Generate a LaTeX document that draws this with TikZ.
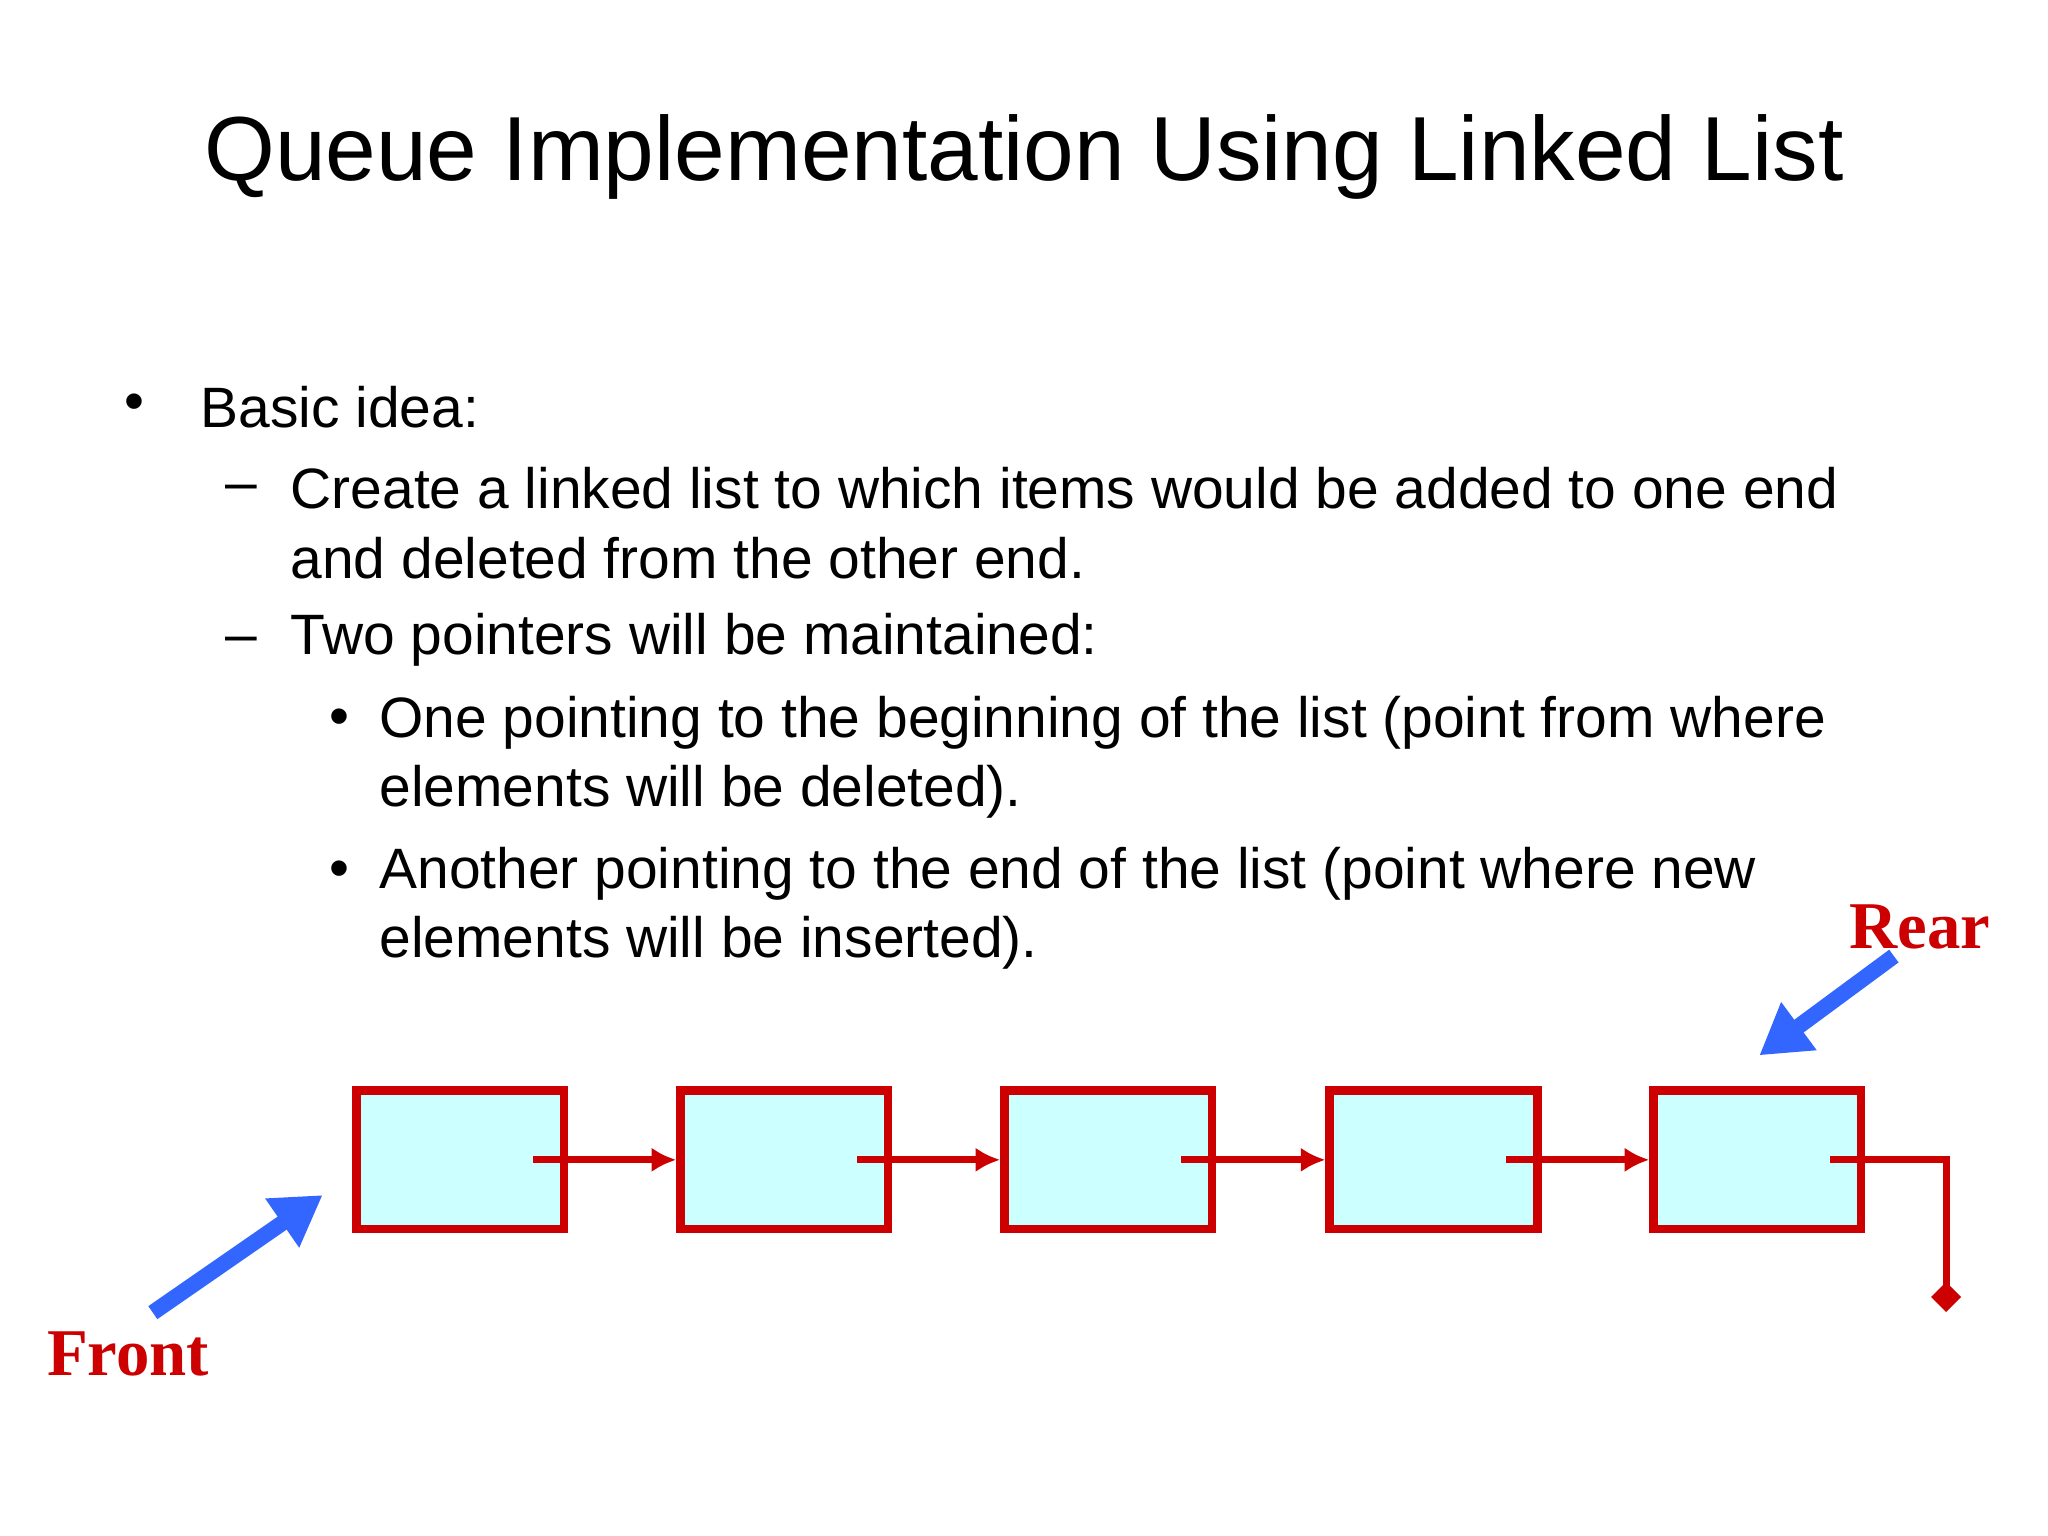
\documentclass[tikz,border=0pt]{standalone}
\usepackage{fontspec}
\setmainfont{Liberation Sans}
\newfontfamily\serifb{Liberation Serif}
\definecolor{boxred}{RGB}{204,0,0}
\definecolor{boxfill}{RGB}{204,255,255}
\definecolor{ptrblue}{RGB}{51,102,255}
\usetikzlibrary{arrows.meta}
\begin{document}
\begin{tikzpicture}[x=0.013061cm,y=-0.013061cm,
  txt/.style={anchor=west,inner sep=0,font=\fontsize{16.2}{19}\selectfont},
  qnode/.style={draw=boxred,fill=boxfill,line width=2.4pt,minimum width=159*0.013061cm,minimum height=106*0.013061cm,inner sep=0},
  link/.style={draw=boxred,line width=2pt,-{Latex[length=7pt,width=7pt]}},
  ptr/.style={draw=ptrblue,line width=4.5pt,-{Triangle[length=14pt,width=16pt]}},
  lbl/.style={text=boxred,font=\serifb\bfseries\fontsize{19}{22}\selectfont,inner sep=0}]
\useasboundingbox (0,0) rectangle (1568,1176);
\node[font=\fontsize{25.9}{30}\selectfont] (title) at (784,120) {Queue Implementation Using Linked List};
\node[txt] (b1) at (95,312) {•};
\node[txt] (t1) at (153,312) {Basic idea:};
\node[txt] (d1) at (172,378) {–};
\node[txt] (t2) at (222,374) {Create a linked list to which items would be added to one end};
\node[txt] (t3) at (222,427) {and deleted from the other end.};
\node[txt] (d2) at (172,494) {–};
\node[txt] (t4) at (222,490) {Two pointers will be maintained:};
\node[txt] (b2) at (252,553) {•};
\node[txt] (t5) at (290,553) {One pointing to the beginning of the list (point from where};
\node[txt] (t6) at (290,606) {elements will be deleted).};
\node[txt] (b3) at (252,669) {•};
\node[txt] (t7) at (290,669) {Another pointing to the end of the list (point where new};
\node[txt] (t8) at (290,722) {elements will be inserted).};
\foreach \i/\x in {1/352.5,2/600.5,3/848.5,4/1097.5,5/1345.5}
  \node[qnode] (n\i) at (\x,888) {};
\foreach \i/\j in {1/2,2/3,3/4,4/5}
  \coordinate (s\i) at ([xshift=-27*0.013061cm]n\i.east);
\foreach \i/\j in {1/2,2/3,3/4,4/5}
  \draw[link] (s\i) -- (n\j.west);
\coordinate (s5) at ([xshift=-27*0.013061cm]n5.east);
\coordinate (c5) at (1490,888);
\coordinate (e5) at (1490,993);
\draw[draw=boxred,line width=2pt] (s5) -- (c5) -- (e5);
\node[fill=boxred,inner sep=0,minimum size=6pt,rotate=45] (dia) at (e5) {};
\coordinate (f0) at (117,1005);
\coordinate (f1) at (247,915);
\draw[ptr] (f0) -- (f1);
\coordinate (r0) at (1450,732);
\coordinate (r1) at (1347,808);
\draw[ptr] (r0) -- (r1);
\node[lbl] (front) at (98,1037) {Front};
\node[lbl] (rear) at (1470,710) {Rear};
\end{tikzpicture}
\end{document}
